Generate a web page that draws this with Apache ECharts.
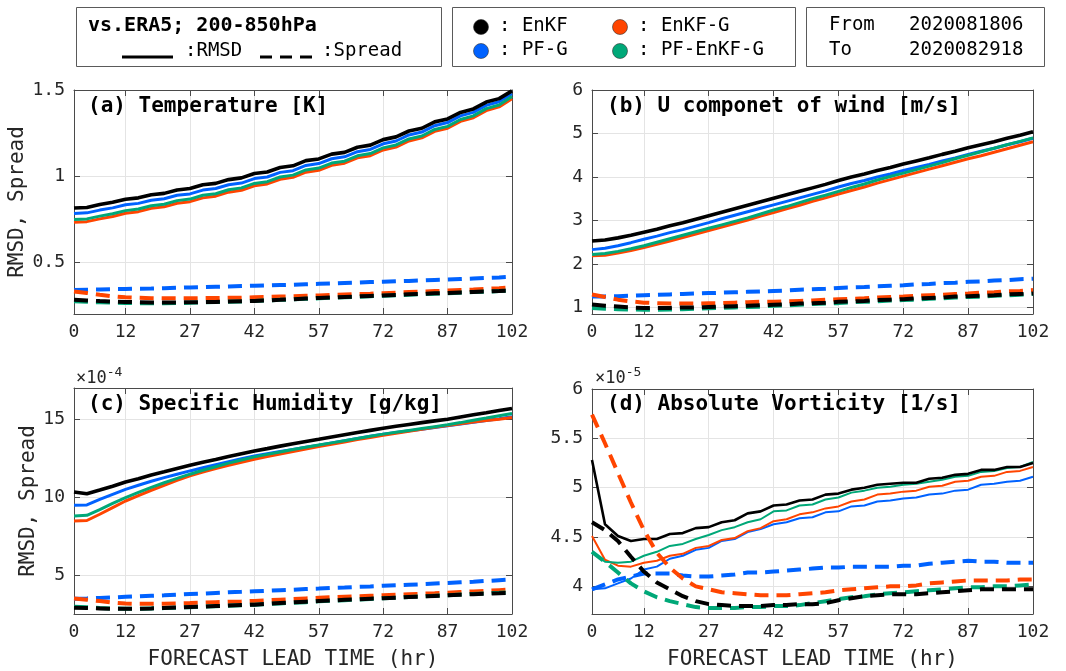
<!DOCTYPE html>
<html>
<head>
<meta charset="utf-8">
<script src="https://cdn.jsdelivr.net/npm/echarts@6/dist/echarts.min.js"></script>
<style>
  html, body { margin: 0; padding: 0; background: #fff; }
  #chart { width: 1066px; height: 671px; }
</style>
</head>
<body>
<div id="chart"></div>
<script>
// forecast lead time (hr), every 3 h
const hours = [0,3,6,9,12,15,18,21,24,27,30,33,36,39,42,45,48,51,54,57,60,63,66,69,72,75,78,81,84,87,90,93,96,99,102];
const xTicks = [0,12,27,42,57,72,87,102];

// (a) Temperature [K]
const aEnkfRmsd = [0.815,0.818,0.835,0.848,0.866,0.874,0.892,0.9,0.92,0.928,0.95,0.958,0.98,0.99,1.015,1.024,1.05,1.06,1.09,1.1,1.128,1.138,1.168,1.18,1.212,1.228,1.262,1.278,1.315,1.332,1.37,1.39,1.43,1.45,1.495];
const aEnkfgRmsd = [0.732,0.736,0.752,0.766,0.785,0.794,0.813,0.822,0.843,0.852,0.874,0.884,0.907,0.918,0.944,0.955,0.982,0.993,1.023,1.034,1.063,1.075,1.106,1.119,1.152,1.169,1.204,1.222,1.26,1.278,1.318,1.339,1.38,1.402,1.45];
const aPfgRmsd = [0.783,0.787,0.803,0.816,0.834,0.842,0.86,0.869,0.889,0.897,0.919,0.928,0.95,0.96,0.986,0.995,1.022,1.032,1.062,1.073,1.101,1.112,1.142,1.155,1.188,1.204,1.239,1.256,1.293,1.311,1.35,1.37,1.411,1.432,1.478];
const aPfenkfgRmsd = [0.748,0.752,0.768,0.782,0.8,0.809,0.828,0.837,0.858,0.867,0.889,0.898,0.921,0.932,0.958,0.968,0.995,1.006,1.036,1.047,1.076,1.087,1.118,1.131,1.164,1.181,1.216,1.233,1.271,1.289,1.329,1.35,1.392,1.413,1.462];
const aEnkfSprd = [0.283,0.279,0.275,0.272,0.27,0.268,0.267,0.267,0.267,0.268,0.269,0.27,0.272,0.274,0.276,0.279,0.282,0.286,0.29,0.293,0.296,0.299,0.302,0.305,0.308,0.311,0.314,0.317,0.32,0.322,0.325,0.328,0.331,0.333,0.336];
const aEnkfgSprd = [0.33,0.322,0.312,0.303,0.297,0.294,0.292,0.291,0.291,0.291,0.292,0.293,0.294,0.295,0.297,0.299,0.301,0.303,0.306,0.308,0.31,0.313,0.316,0.318,0.321,0.324,0.327,0.33,0.333,0.336,0.339,0.342,0.346,0.35,0.355];
const aPfgSprd = [0.34,0.341,0.342,0.344,0.345,0.347,0.348,0.35,0.352,0.354,0.356,0.358,0.36,0.362,0.364,0.366,0.368,0.37,0.373,0.375,0.377,0.38,0.382,0.385,0.387,0.39,0.392,0.395,0.398,0.4,0.403,0.406,0.409,0.412,0.416];
const aPfenkfgSprd = [0.274,0.271,0.268,0.266,0.264,0.263,0.263,0.263,0.264,0.265,0.267,0.269,0.271,0.273,0.276,0.279,0.282,0.285,0.288,0.291,0.294,0.297,0.3,0.303,0.306,0.309,0.312,0.315,0.318,0.321,0.324,0.327,0.33,0.333,0.336];

// (b) U componet of wind [m/s]
const bEnkfRmsd = [2.53,2.55,2.6,2.66,2.73,2.8,2.88,2.95,3.03,3.11,3.19,3.27,3.35,3.43,3.51,3.59,3.67,3.75,3.83,3.92,4.0,4.07,4.15,4.22,4.3,4.37,4.44,4.52,4.59,4.67,4.74,4.81,4.89,4.96,5.04];
const bEnkfgRmsd = [2.19,2.2,2.25,2.31,2.38,2.45,2.53,2.61,2.69,2.77,2.85,2.93,3.01,3.1,3.18,3.27,3.35,3.44,3.52,3.61,3.69,3.77,3.86,3.94,4.02,4.1,4.18,4.26,4.34,4.42,4.49,4.57,4.65,4.73,4.81];
const bPfgRmsd = [2.33,2.36,2.42,2.49,2.57,2.64,2.72,2.79,2.87,2.95,3.04,3.12,3.2,3.28,3.36,3.44,3.52,3.6,3.68,3.77,3.85,3.92,4.0,4.07,4.15,4.22,4.29,4.37,4.44,4.52,4.59,4.66,4.74,4.81,4.89];
const bPfenkfgRmsd = [2.22,2.24,2.29,2.35,2.42,2.5,2.58,2.66,2.74,2.82,2.9,2.98,3.06,3.15,3.24,3.32,3.41,3.5,3.58,3.67,3.76,3.84,3.93,4.01,4.09,4.17,4.25,4.33,4.42,4.5,4.58,4.66,4.74,4.82,4.9];
const bEnkfSprd = [1.07,1.04,1.02,1.0,0.99,0.99,0.99,1.0,1.0,1.01,1.02,1.03,1.04,1.05,1.06,1.07,1.09,1.1,1.11,1.13,1.14,1.15,1.17,1.18,1.19,1.21,1.22,1.23,1.25,1.26,1.27,1.28,1.3,1.31,1.32];
const bEnkfgSprd = [1.3,1.24,1.18,1.14,1.11,1.1,1.09,1.09,1.09,1.1,1.1,1.11,1.12,1.13,1.13,1.14,1.15,1.16,1.18,1.19,1.2,1.21,1.23,1.24,1.25,1.27,1.28,1.29,1.31,1.32,1.34,1.35,1.37,1.38,1.4];
const bPfgSprd = [1.25,1.255,1.26,1.27,1.28,1.29,1.3,1.31,1.32,1.33,1.34,1.35,1.36,1.37,1.38,1.39,1.41,1.42,1.43,1.45,1.46,1.47,1.49,1.5,1.51,1.53,1.54,1.56,1.57,1.59,1.6,1.62,1.63,1.65,1.66];
const bPfenkfgSprd = [0.99,0.97,0.96,0.955,0.95,0.95,0.955,0.96,0.97,0.98,0.99,1.0,1.01,1.02,1.04,1.05,1.06,1.08,1.09,1.1,1.12,1.13,1.14,1.16,1.17,1.18,1.2,1.21,1.23,1.24,1.25,1.27,1.28,1.29,1.31];

// (c) Specific Humidity [g/kg], x 1e-4
const cEnkfRmsd = [10.33,10.22,10.45,10.7,10.97,11.18,11.42,11.62,11.84,12.04,12.23,12.41,12.6,12.78,12.96,13.11,13.27,13.42,13.57,13.71,13.86,14.0,14.14,14.28,14.42,14.54,14.66,14.78,14.89,15.0,15.14,15.28,15.41,15.55,15.69];
const cEnkfgRmsd = [8.46,8.5,8.9,9.33,9.75,10.1,10.44,10.76,11.07,11.36,11.6,11.83,12.04,12.24,12.43,12.6,12.77,12.93,13.09,13.24,13.39,13.54,13.69,13.83,13.97,14.1,14.23,14.36,14.48,14.6,14.71,14.81,14.91,15.0,15.1];
const cPfgRmsd = [9.47,9.5,9.85,10.18,10.5,10.76,11.02,11.25,11.47,11.68,11.88,12.08,12.27,12.46,12.64,12.78,12.92,13.06,13.2,13.33,13.47,13.61,13.76,13.9,14.04,14.15,14.25,14.36,14.46,14.57,14.69,14.8,14.92,15.03,15.15];
const cPfenkfgRmsd = [8.79,8.83,9.2,9.6,9.97,10.3,10.62,10.92,11.2,11.47,11.72,11.95,12.18,12.38,12.58,12.74,12.9,13.05,13.2,13.34,13.48,13.62,13.76,13.9,14.04,14.16,14.28,14.4,14.52,14.64,14.78,14.93,15.07,15.22,15.37];
const cEnkfSprd = [2.9,2.88,2.86,2.84,2.83,2.84,2.86,2.89,2.92,2.95,2.98,3.01,3.04,3.07,3.1,3.15,3.2,3.25,3.29,3.33,3.37,3.41,3.44,3.48,3.51,3.55,3.59,3.62,3.66,3.7,3.74,3.77,3.8,3.83,3.87];
const cEnkfgSprd = [3.5,3.42,3.33,3.23,3.17,3.15,3.15,3.16,3.18,3.2,3.23,3.26,3.29,3.31,3.34,3.38,3.42,3.46,3.5,3.54,3.58,3.61,3.64,3.67,3.7,3.73,3.77,3.8,3.83,3.87,3.91,3.95,3.99,4.03,4.07];
const cPfgSprd = [3.48,3.5,3.53,3.56,3.6,3.63,3.67,3.7,3.74,3.78,3.81,3.85,3.89,3.92,3.96,3.99,4.03,4.06,4.1,4.13,4.17,4.2,4.24,4.27,4.31,4.34,4.38,4.41,4.45,4.49,4.53,4.57,4.62,4.67,4.72];
const cPfenkfgSprd = [2.97,2.93,2.88,2.85,2.84,2.84,2.86,2.88,2.91,2.94,2.97,3.0,3.03,3.06,3.1,3.14,3.18,3.22,3.26,3.31,3.35,3.39,3.43,3.47,3.51,3.55,3.59,3.63,3.67,3.71,3.75,3.79,3.83,3.86,3.9];

// (d) Absolute Vorticity [1/s], x 1e-5
const dEnkfRmsd = [5.28,4.63,4.51,4.46,4.48,4.48,4.53,4.54,4.59,4.6,4.65,4.67,4.74,4.76,4.82,4.83,4.87,4.88,4.93,4.94,4.98,5.0,5.03,5.04,5.05,5.05,5.09,5.1,5.13,5.14,5.18,5.18,5.21,5.21,5.25];
const dEnkfgRmsd = [4.51,4.27,4.21,4.2,4.24,4.26,4.31,4.33,4.39,4.41,4.47,4.49,4.56,4.59,4.66,4.68,4.73,4.75,4.79,4.81,4.86,4.88,4.93,4.94,4.96,4.97,5.01,5.02,5.06,5.07,5.11,5.12,5.16,5.17,5.21];
const dPfgRmsd = [3.97,3.98,4.03,4.08,4.17,4.2,4.28,4.31,4.37,4.39,4.46,4.48,4.55,4.58,4.63,4.65,4.69,4.7,4.75,4.76,4.81,4.82,4.86,4.87,4.89,4.9,4.93,4.94,4.97,4.98,5.03,5.04,5.06,5.07,5.11];
const dPfenkfgRmsd = [4.35,4.25,4.24,4.25,4.31,4.35,4.41,4.43,4.48,4.52,4.57,4.6,4.65,4.68,4.76,4.77,4.82,4.83,4.88,4.9,4.95,4.97,5.0,5.01,5.03,5.04,5.06,5.08,5.11,5.12,5.16,5.17,5.2,5.21,5.26];
const dEnkfSprd = [4.65,4.57,4.46,4.3,4.15,4.04,3.97,3.9,3.85,3.82,3.81,3.8,3.8,3.8,3.81,3.81,3.82,3.82,3.83,3.86,3.88,3.9,3.91,3.92,3.92,3.92,3.93,3.94,3.95,3.96,3.97,3.97,3.97,3.97,3.97];
const dEnkfgSprd = [5.74,5.45,5.15,4.85,4.57,4.34,4.19,4.08,4.0,3.97,3.94,3.93,3.92,3.91,3.91,3.91,3.92,3.93,3.94,3.96,3.97,3.98,3.99,4.0,4.0,4.01,4.03,4.04,4.05,4.06,4.06,4.06,4.06,4.07,4.07];
const dPfgSprd = [3.97,4.02,4.07,4.1,4.13,4.13,4.13,4.11,4.1,4.1,4.11,4.12,4.14,4.14,4.15,4.16,4.17,4.18,4.19,4.19,4.2,4.2,4.2,4.2,4.21,4.21,4.23,4.24,4.25,4.26,4.25,4.25,4.24,4.24,4.24];
const dPfenkfgSprd = [4.35,4.25,4.14,4.03,3.95,3.89,3.85,3.82,3.79,3.78,3.78,3.78,3.79,3.79,3.8,3.8,3.81,3.83,3.85,3.87,3.89,3.9,3.92,3.93,3.94,3.95,3.96,3.97,3.98,3.99,3.99,4.0,4.0,4.01,4.02];

// y tick labels of each panel
const yTicksA = [0.5, 1, 1.5];
const yTicksB = [1, 2, 3, 4, 5, 6];
const yTicksC = [5, 10, 15];
const yTicksD = [4, 4.5, 5, 5.5, 6];

const panelTitles = ['(a) Temperature [K]', '(b) U componet of wind [m/s]', '(c) Specific Humidity [g/kg]', '(d) Absolute Vorticity [1/s]'];
const expLabels = ['', '', '-4', '-5'];
const expNames = ['EnKF', 'PF-G', 'EnKF-G', 'PF-EnKF-G'];

const FONT = 'DejaVu Sans Mono';
const AX = '#4a4a4a';
const GRIDC = '#e4e4e4';
const C_BLACK = '#000000', C_BLUE = '#0062ff', C_RED = '#ff4500', C_GREEN = '#00a878';

const grids = [
  {left: 74, top: 90, width: 438, height: 224},
  {left: 592, top: 90, width: 441, height: 224},
  {left: 74, top: 388, width: 438, height: 226},
  {left: 592, top: 389, width: 441, height: 225}
];
const yRange = [[0.2, 1.5], [0.85, 6], [2.5, 17], [3.72, 6]];
const yTicks = [yTicksA, yTicksB, yTicksC, yTicksD];

let xAxes = [], yAxes = [], series = [];
grids.forEach(function (g, i) {
  xAxes.push({
    type: 'value', gridIndex: i, min: 0, max: 102, position: 'bottom',
    axisLine: {onZero: false, lineStyle: {color: AX, width: 1}},
    axisTick: {inside: true, length: 6, customValues: xTicks, lineStyle: {color: AX}},
    axisLabel: {customValues: xTicks, color: '#262626', fontFamily: FONT, fontSize: 18, margin: 9},
    splitLine: {show: true, lineStyle: {color: GRIDC}},
    name: i >= 2 ? 'FORECAST LEAD TIME (hr)' : '',
    nameLocation: 'middle', nameGap: 35,
    nameTextStyle: {color: '#262626', fontFamily: FONT, fontSize: 21}
  });
  xAxes.push({
    type: 'value', gridIndex: i, min: 0, max: 102, position: 'top',
    axisLine: {onZero: false, lineStyle: {color: AX, width: 1}},
    axisTick: {inside: true, length: 6, customValues: xTicks, lineStyle: {color: AX}},
    axisLabel: {show: false}, splitLine: {show: false}
  });
  yAxes.push({
    type: 'value', gridIndex: i, min: yRange[i][0], max: yRange[i][1], position: 'left',
    axisLine: {show: true, onZero: false, lineStyle: {color: AX, width: 1}},
    axisTick: {show: true, inside: true, length: 6, customValues: yTicks[i], lineStyle: {color: AX}},
    axisLabel: {customValues: yTicks[i], color: '#262626', fontFamily: FONT, fontSize: 18, margin: 9},
    splitLine: {show: true, lineStyle: {color: GRIDC}},
    name: (i % 2 === 0) ? 'RMSD, Spread' : '',
    nameLocation: 'middle', nameGap: i === 0 ? 46 : 34,
    nameTextStyle: {color: '#262626', fontFamily: FONT, fontSize: 21}
  });
  yAxes.push({
    type: 'value', gridIndex: i, min: yRange[i][0], max: yRange[i][1], position: 'right',
    axisLine: {show: true, onZero: false, lineStyle: {color: AX, width: 1}},
    axisTick: {show: true, inside: true, length: 6, customValues: yTicks[i], lineStyle: {color: AX}},
    axisLabel: {show: false}, splitLine: {show: false}
  });
});

function line(p, vals, color, dashed, width) {
  return {
    type: 'line', xAxisIndex: p * 2, yAxisIndex: p * 2,
    data: hours.map(function (h, k) { return [h, vals[k]]; }),
    symbol: 'none', silent: true,
    lineStyle: {color: color, width: width, type: dashed ? [14, 8] : 'solid', cap: 'butt'},
    z: dashed ? 3 : 2
  };
}

const panels = [
  [aEnkfRmsd, aEnkfgRmsd, aPfgRmsd, aPfenkfgRmsd, aEnkfSprd, aEnkfgSprd, aPfgSprd, aPfenkfgSprd],
  [bEnkfRmsd, bEnkfgRmsd, bPfgRmsd, bPfenkfgRmsd, bEnkfSprd, bEnkfgSprd, bPfgSprd, bPfenkfgSprd],
  [cEnkfRmsd, cEnkfgRmsd, cPfgRmsd, cPfenkfgRmsd, cEnkfSprd, cEnkfgSprd, cPfgSprd, cPfenkfgSprd],
  [dEnkfRmsd, dEnkfgRmsd, dPfgRmsd, dPfenkfgRmsd, dEnkfSprd, dEnkfgSprd, dPfgSprd, dPfenkfgSprd]
];
panels.forEach(function (s, p) {
  const w = p === 3 ? 2 : 3;
  const wk = p === 3 ? 2.6 : 3.6;
  // solid = RMSD
  series.push(line(p, s[2], C_BLUE, false, w));
  series.push(line(p, s[1], C_RED, false, w));
  series.push(line(p, s[3], C_GREEN, false, w));
  series.push(line(p, s[0], C_BLACK, false, wk));
  // dashed = spread
  series.push(line(p, s[6], C_BLUE, true, 4));
  series.push(line(p, s[5], C_RED, true, 4));
  series.push(line(p, s[7], C_GREEN, true, 4));
  series.push(line(p, s[4], C_BLACK, true, 4));
});

// text & legend boxes
const titlePos = [[88, 107], [607, 107], [88, 405], [607, 405]];
let graphics = [];
panelTitles.forEach(function (t, i) {
  graphics.push({type: 'text', left: titlePos[i][0], top: titlePos[i][1] - 11, z: 10,
    style: {text: t, font: 'bold 21px "' + FONT + '"', fill: '#000'}});
});
[[76, 378, expLabels[2]], [595, 378, expLabels[3]]].forEach(function (e) {
  graphics.push({type: 'text', left: e[0], top: e[1] - 12, z: 10,
    style: {text: '{a|×10}{b|' + e[2] + '}', rich: {
      a: {fontFamily: FONT, fontSize: 17, fill: '#262626', verticalAlign: 'bottom'},
      b: {fontFamily: FONT, fontSize: 13, fill: '#262626', verticalAlign: 'top', padding: [0, 0, 8, 0]}
    }}});
});

const boxStyle = {fill: '#fff', stroke: '#5a5a5a', lineWidth: 1};
graphics.push({type: 'rect', shape: {x: 76.5, y: 7.5, width: 365, height: 59}, style: boxStyle});
graphics.push({type: 'rect', shape: {x: 452.5, y: 7.5, width: 343, height: 59}, style: boxStyle});
graphics.push({type: 'rect', shape: {x: 806.5, y: 7.5, width: 238, height: 59}, style: boxStyle});
graphics.push({type: 'text', left: 88, top: 16, style: {text: 'vs.ERA5; 200-850hPa', font: 'bold 20px "' + FONT + '"', fill: '#000'}});
graphics.push({type: 'line', shape: {x1: 122, y1: 57, x2: 173, y2: 57}, style: {stroke: '#000', lineWidth: 3}});
graphics.push({type: 'text', left: 185, top: 42, style: {text: ':RMSD', font: '19px "' + FONT + '"', fill: '#000'}});
graphics.push({type: 'line', shape: {x1: 260, y1: 57, x2: 313, y2: 57}, style: {stroke: '#000', lineWidth: 3, lineDash: [12, 8]}});
graphics.push({type: 'text', left: 322, top: 42, style: {text: ':Spread', font: '19px "' + FONT + '"', fill: '#000'}});

const legPos = [[481, 27], [481, 51], [620, 27], [620, 51]];
const legColors = [C_BLACK, C_BLUE, C_RED, C_GREEN];
expNames.forEach(function (n, i) {
  graphics.push({type: 'circle', shape: {cx: legPos[i][0], cy: legPos[i][1], r: 7.5}, style: {fill: legColors[i], stroke: '#333', lineWidth: 0.6}});
  graphics.push({type: 'text', left: legPos[i][0] + 18, top: legPos[i][1] - 10, style: {text: ': ' + n, font: '19px "' + FONT + '"', fill: '#000'}});
});
graphics.push({type: 'text', left: 829, top: 16, style: {text: 'From   2020081806', font: '19px "' + FONT + '"', fill: '#000'}});
graphics.push({type: 'text', left: 829, top: 41, style: {text: 'To     2020082918', font: '19px "' + FONT + '"', fill: '#000'}});

const chart = echarts.init(document.getElementById('chart'));
chart.setOption({
  animation: false,
  backgroundColor: '#fff',
  grid: grids,
  xAxis: xAxes,
  yAxis: yAxes,
  series: series,
  graphic: graphics
});
</script>
</body>
</html>
